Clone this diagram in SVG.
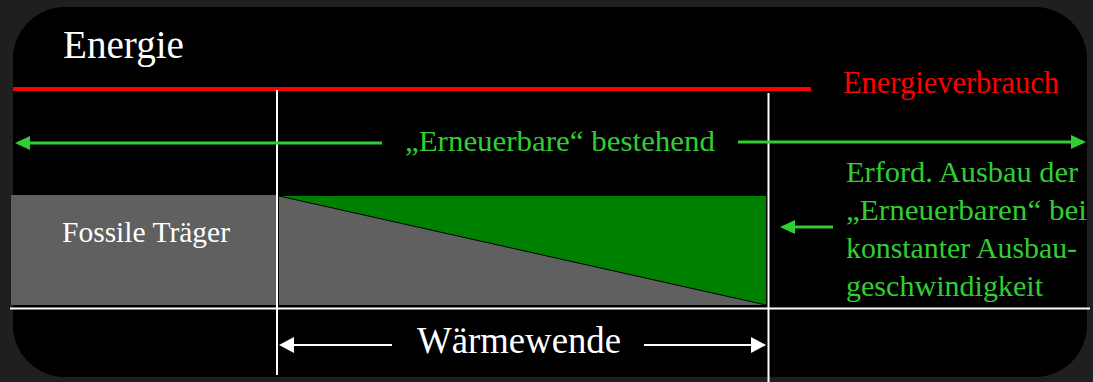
<svg xmlns="http://www.w3.org/2000/svg" width="1093" height="382" viewBox="0 0 1093 382">
  <style>
    .t { font-family: "Liberation Serif", "DejaVu Serif", serif; }
    .white { fill: #ffffff; }
    .green { fill: #32cd32; }
    .gline { stroke: #32cd32; stroke-width: 3; fill: none; }
    .wline { stroke: #ffffff; stroke-width: 2; fill: none; }
  </style>
  <defs>
    <marker id="ga" markerUnits="userSpaceOnUse" markerWidth="15" markerHeight="14" refX="12" refY="7" orient="auto">
      <path d="M0,0 L15,7 L0,14 z" fill="#32cd32"/>
    </marker>
    <marker id="wa" markerUnits="userSpaceOnUse" markerWidth="15" markerHeight="16" refX="12" refY="8" orient="auto">
      <path d="M0,0 L15,8 L0,16 z" fill="#ffffff"/>
    </marker>
  </defs>

  <rect x="0" y="0" width="1093" height="382" fill="#1f1f1f"/>
  <rect x="13" y="7" width="1074" height="370" rx="52" ry="52" fill="#000000"/>

  <g id="title">
    <text class="t white" x="63" y="58" font-size="41" textLength="121" lengthAdjust="spacingAndGlyphs">Energie</text>
  </g>

  <g id="verbrauch">
    <line x1="13" y1="89" x2="811" y2="89" stroke="#ff0000" stroke-width="4"/>
    <text class="t" x="843" y="93" font-size="31" fill="#ff0000" textLength="216" lengthAdjust="spacingAndGlyphs">Energieverbrauch</text>
  </g>

  <g id="fossile">
    <rect x="11" y="195" width="265" height="110" fill="#606060"/>
    <text class="t white" x="62" y="242" font-size="30" textLength="168" lengthAdjust="spacingAndGlyphs">Fossile Träger</text>
  </g>

  <g id="uebergang">
    <polygon points="279,196 766,196 766,305 279,305" fill="#606060"/>
    <polygon points="279,196 766,196 766,305" fill="#008000"/>
    <line x1="279" y1="196" x2="766" y2="305" stroke="#000000" stroke-width="1"/>
  </g>

  <g id="bestehend">
    <text class="t green" x="405" y="151" font-size="30" textLength="310" lengthAdjust="spacingAndGlyphs">„Erneuerbare“ bestehend</text>
  </g>

  <g id="ausbau">
    <text class="t green" x="846" y="182" font-size="29" textLength="232" lengthAdjust="spacingAndGlyphs">Erford. Ausbau der</text>
    <text class="t green" x="846" y="220" font-size="29" textLength="241" lengthAdjust="spacingAndGlyphs">„Erneuerbaren“ bei</text>
    <text class="t green" x="846" y="258" font-size="29" textLength="231" lengthAdjust="spacingAndGlyphs">konstanter Ausbau-</text>
    <text class="t green" x="846" y="296" font-size="29" textLength="197" lengthAdjust="spacingAndGlyphs">geschwindigkeit</text>
  </g>

  <g id="waermewende">
    <text class="t white" x="417" y="353" font-size="37" textLength="204" lengthAdjust="spacingAndGlyphs">Wärmewende</text>
  </g>

  <g id="connectors">
    <line class="wline" x1="277" y1="90" x2="277" y2="375"/>
    <line class="wline" x1="768.5" y1="93" x2="768.5" y2="382"/>
    <line class="wline" x1="10" y1="308.5" x2="1090" y2="308.5"/>
    <path class="gline" d="M382,143 L18,143" marker-end="url(#ga)"/>
    <path class="gline" d="M738,142 L1083,142" marker-end="url(#ga)"/>
    <path class="gline" d="M833,227 L783,227" marker-end="url(#ga)"/>
    <path class="wline" d="M392,345 L282,345" marker-end="url(#wa)"/>
    <path class="wline" d="M644,345 L763,345" marker-end="url(#wa)"/>
  </g>
</svg>
